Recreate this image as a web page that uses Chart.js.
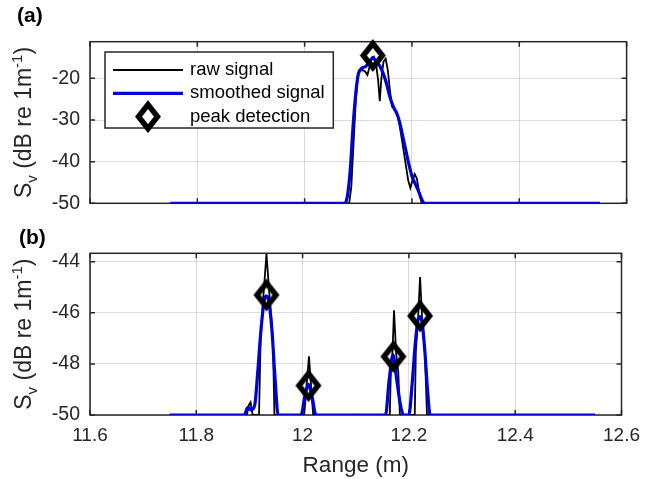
<!DOCTYPE html>
<html>
<head>
<meta charset="utf-8">
<script src="https://cdn.jsdelivr.net/npm/chart.js@4.4.0/dist/chart.umd.min.js"></script>
<style>
  html, body { margin: 0; padding: 0; background: #fff; }
  #wrap { position: relative; width: 649px; height: 479px; }
  .panel { position: absolute; left: 0; width: 649px; }
  #pa { top: 0; height: 225px; }
  #pb { top: 225px; height: 254px; }
</style>
</head>
<body>
<div id="wrap">
  <div class="panel" id="pa"><canvas id="chartA"></canvas></div>
  <div class="panel" id="pb"><canvas id="chartB"></canvas></div>
</div>
<script>
// shared x axis (range, m)
const xTicks = [11.6, 11.8, 12, 12.2, 12.4, 12.6];
const xTickLabels = ['11.6', '11.8', '12', '12.2', '12.4', '12.6'];

// panel (a)
const rangeRawA = [11.75, 12.083, 12.087, 12.091, 12.095, 12.099, 12.103, 12.108, 12.113, 12.117, 12.121, 12.125, 12.129, 12.133, 12.137, 12.140, 12.143, 12.147, 12.151, 12.155, 12.159, 12.163, 12.167, 12.171, 12.176, 12.181, 12.187, 12.193, 12.197, 12.201, 12.205, 12.209, 12.213, 12.218, 12.55];
const svRawA = [-50, -50, -46, -36, -26, -19.5, -18.2, -18, -18.4, -19.2, -17.2, -15.2, -14.8, -16.5, -20.5, -25.5, -20, -16, -15.3, -18, -23, -26.8, -27.2, -28, -30.5, -34.5, -39.5, -44.5, -46.3, -44.5, -43, -44, -47, -50, -50];
const rangeSmoothA = [11.75, 12.075, 12.08, 12.085, 12.09, 12.095, 12.1, 12.106, 12.113, 12.12, 12.127, 12.134, 12.14, 12.146, 12.152, 12.159, 12.166, 12.172, 12.177, 12.183, 12.189, 12.194, 12.2, 12.206, 12.212, 12.218, 12.224, 12.55];
const svSmoothA = [-50, -50, -48, -42, -32, -24, -19, -17.6, -17.2, -16.3, -15, -16.2, -17, -18.7, -21, -24.5, -27, -28.5, -30.5, -34, -37.5, -40.5, -43.5, -45.3, -47, -49, -50, -50];
const rangePeakA = [12.127];
const svPeakA = [-14.5];
const yTicksA = [-50, -40, -30, -20];
const yTickLabelsA = ['-50', '-40', '-30', '-20'];

// panel (b)
const rangeRawB = [11.75, 11.895, 11.899, 11.902, 11.906, 11.918, 11.921, 11.926, 11.932, 11.938, 11.944, 11.947, 12.003, 12.006, 12.012, 12.017, 12.02, 12.164, 12.166, 12.169, 12.172, 12.176, 12.180, 12.183, 12.211, 12.213, 12.217, 12.221, 12.225, 12.230, 12.234, 12.55];
const svRawB = [-50, -50, -49.6, -49.5, -50, -50, -47, -45.4, -43.7, -45.4, -47, -50, -50, -49.2, -47.7, -49.2, -50, -50, -48.3, -47.6, -45.9, -47.6, -48.3, -50, -50, -47.5, -46.3, -44.6, -46.3, -47.5, -50, -50];
const rangeSmoothB = [11.75, 11.89, 11.897, 11.903, 11.91, 11.916, 11.922, 11.928, 11.932, 11.936, 11.942, 11.948, 11.954, 11.997, 12.004, 12.011, 12.018, 12.025, 12.156, 12.163, 12.170, 12.177, 12.184, 12.19, 12.2, 12.206, 12.212, 12.217, 12.221, 12.225, 12.23, 12.235, 12.24, 12.55];
const svSmoothB = [-50, -50, -49.7, -49.8, -49.6, -48.2, -46.6, -45.5, -45.35, -45.5, -46.6, -48.5, -50, -50, -49.3, -48.8, -49.3, -50, -50, -48.6, -47.65, -48.6, -49.6, -50, -50, -48.8, -47.2, -46.3, -46.15, -46.4, -47.5, -49, -50, -50];
const rangePeakB = [11.932, 12.011, 12.171, 12.221];
const svPeakB = [-45.3, -48.85, -47.71, -46.12];
const yTicksB = [-50, -48, -46, -44];
const yTickLabelsB = ['-50', '-48', '-46', '-44'];

const FONT = '"Liberation Sans", Arial, sans-serif';
const INK = '#262626';
const BLUE = '#0000d8';

const pts = (xs, ys) => xs.map((x, i) => ({ x, y: ys[i] }));

// hollow matlab style diamond marker
function diamond(w, h, lw) {
  const c = document.createElement('canvas');
  c.width = Math.ceil(w + lw * 3);
  c.height = Math.ceil(h + lw * 3);
  const g = c.getContext('2d');
  const cx = c.width / 2, cy = c.height / 2;
  g.lineWidth = lw;
  g.strokeStyle = '#000';
  g.lineJoin = 'miter';
  g.beginPath();
  g.moveTo(cx, cy - h / 2);
  g.lineTo(cx + w / 2, cy);
  g.lineTo(cx, cy + h / 2);
  g.lineTo(cx - w / 2, cy);
  g.closePath();
  g.stroke();
  return c;
}
const marker = diamond(19, 24, 5.5);

// box, inward ticks, y title with sub/superscript, panel letter, legend
const matlabAxes = {
  id: 'matlabAxes',
  beforeDatasetsDraw(chart, args, o) {
    const { ctx, chartArea: a, scales } = chart;
    ctx.save();
    ctx.strokeStyle = INK;
    ctx.lineWidth = 1.5;
    ctx.beginPath();
    scales.x.ticks.forEach(t => {
      const px = scales.x.getPixelForValue(t.value);
      ctx.moveTo(px, a.top); ctx.lineTo(px, a.top + 5);
      ctx.moveTo(px, a.bottom); ctx.lineTo(px, a.bottom - 5);
    });
    scales.y.ticks.forEach(t => {
      const py = scales.y.getPixelForValue(t.value);
      ctx.moveTo(a.left, py); ctx.lineTo(a.left + 5, py);
      ctx.moveTo(a.right, py); ctx.lineTo(a.right - 5, py);
    });
    ctx.stroke();
    ctx.strokeRect(a.left, a.top, a.width, a.height);
    ctx.restore();
  },
  afterDraw(chart, args, o) {
    const { ctx, chartArea: a } = chart;
    ctx.save();

    // y axis title: S_v (dB re 1m^-1)
    const big = '23px ' + FONT, small = '15px ' + FONT;
    const parts = [
      { t: 'S', f: big, dy: 0 },
      { t: 'v', f: small, dy: 6 },
      { t: ' (dB re 1m', f: big, dy: 0 },
      { t: '-1', f: small, dy: -9 },
      { t: ')', f: big, dy: 0 }
    ];
    let total = 0;
    parts.forEach(p => { ctx.font = p.f; p.w = ctx.measureText(p.t).width; total += p.w; });
    ctx.translate(o.titleX, (a.top + a.bottom) / 2);
    ctx.rotate(-Math.PI / 2);
    ctx.fillStyle = INK;
    ctx.textBaseline = 'alphabetic';
    let cx = -total / 2;
    parts.forEach(p => { ctx.font = p.f; ctx.fillText(p.t, cx, p.dy); cx += p.w; });
    ctx.setTransform(1, 0, 0, 1, 0, 0);

    // panel letter
    ctx.font = 'bold 21px ' + FONT;
    ctx.fillStyle = '#000';
    ctx.textBaseline = 'middle';
    ctx.fillText(o.panel, o.panelX, o.panelY);

    // legend
    if (o.legend) {
      const L = o.legend;
      ctx.fillStyle = '#fff';
      ctx.fillRect(L.x, L.y, L.w, L.h);
      ctx.strokeStyle = INK;
      ctx.lineWidth = 1.5;
      ctx.strokeRect(L.x, L.y, L.w, L.h);
      ctx.font = '18.5px ' + FONT;
      chart.data.datasets.forEach((ds, i) => {
        const y = L.y + L.first + i * L.step;
        if (ds.showLine === false) {
          ctx.drawImage(ds.pointStyle, L.sx + (L.sw - ds.pointStyle.width) / 2, y - ds.pointStyle.height / 2);
        } else {
          ctx.strokeStyle = ds.borderColor;
          ctx.lineWidth = ds.borderWidth;
          ctx.beginPath();
          ctx.moveTo(L.sx, y); ctx.lineTo(L.sx + L.sw, y);
          ctx.stroke();
        }
        ctx.fillStyle = '#000';
        ctx.fillText(ds.label, L.tx, y);
      });
    }
    ctx.restore();
  }
};

function makeChart(id, cfg) {
  return new Chart(document.getElementById(id), {
    type: 'line',
    data: {
      datasets: [
        { label: 'raw signal', data: pts(cfg.rawX, cfg.rawY), borderColor: '#000', borderWidth: 1.8, pointRadius: 0, tension: 0, order: 3 },
        { label: 'smoothed signal', data: pts(cfg.smX, cfg.smY), borderColor: BLUE, borderWidth: 3.2, pointRadius: 0, cubicInterpolationMode: 'monotone', order: 2 },
        { label: 'peak detection', data: pts(cfg.pkX, cfg.pkY), showLine: false, pointStyle: marker, pointRadius: 12, clip: false, order: 1 }
      ]
    },
    options: {
      responsive: true,
      maintainAspectRatio: false,
      animation: false,
      events: [],
      layout: { padding: { top: cfg.padTop, right: 22.4, left: 0, bottom: 0 } },
      plugins: {
        legend: { display: false },
        tooltip: { enabled: false },
        matlabAxes: { titleX: 31, panel: cfg.panel, panelX: cfg.panelX, panelY: cfg.panelY, legend: cfg.legend }
      },
      scales: {
        x: {
          type: 'linear',
          min: 11.6, max: 12.6,
          afterBuildTicks: s => { s.ticks = xTicks.map(v => ({ value: v })); },
          afterFit: s => { s.height = cfg.xHeight; },
          grid: { color: 'rgba(38,38,38,0.16)', lineWidth: 1, drawTicks: false },
          border: { display: false },
          ticks: {
            display: cfg.showX,
            padding: 9,
            color: INK,
            font: { size: 19, family: FONT },
            maxRotation: 0,
            callback: (v, i) => xTickLabels[i]
          },
          title: {
            display: cfg.showX,
            text: 'Range (m)',
            color: INK,
            font: { size: 22.5, family: FONT },
            padding: { top: 0, bottom: 0 }
          }
        },
        y: {
          min: -50, max: cfg.yMax,
          afterBuildTicks: s => { s.ticks = cfg.yTicks.map(v => ({ value: v })); },
          afterFit: s => { s.width = 90; },
          grid: { color: 'rgba(38,38,38,0.16)', lineWidth: 1, drawTicks: false },
          border: { display: false },
          ticks: {
            padding: 10,
            color: INK,
            font: { size: 19.5, family: FONT },
            callback: (v, i) => cfg.yLabels[i]
          }
        }
      }
    },
    plugins: [matlabAxes]
  });
}

makeChart('chartA', {
  rawX: rangeRawA, rawY: svRawA, smX: rangeSmoothA, smY: svSmoothA, pkX: rangePeakA, pkY: svPeakA,
  yMax: -11.2, yTicks: yTicksA, yLabels: yTickLabelsA,
  padTop: 41.7, xHeight: 20.3, showX: false,
  panel: '(a)', panelX: 17, panelY: 16,
  legend: { x: 105, y: 52, w: 228.3, h: 76, first: 18, step: 23.3, sx: 113, sw: 70, tx: 190 }
});

makeChart('chartB', {
  rawX: rangeRawB, rawY: svRawB, smX: rangeSmoothB, smY: svSmoothB, pkX: rangePeakB, pkY: svPeakB,
  yMax: -43.67, yTicks: yTicksB, yLabels: yTickLabelsB,
  padTop: 28.3, xHeight: 64, showX: true,
  panel: '(b)', panelX: 19, panelY: 13
});
</script>
</body>
</html>
